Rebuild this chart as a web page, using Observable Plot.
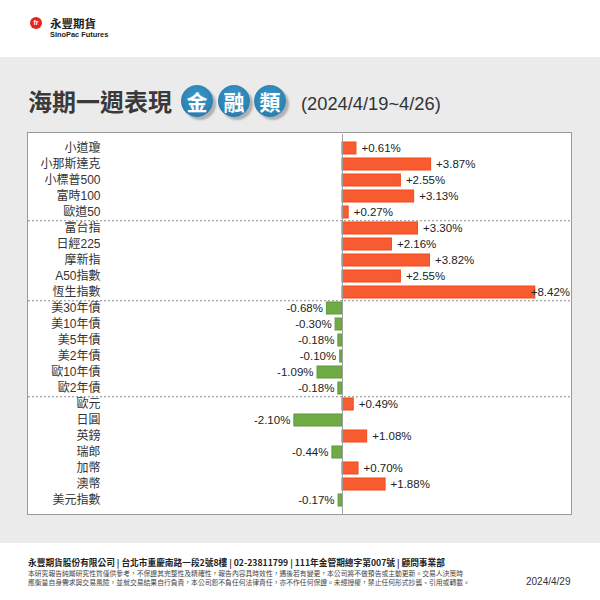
<!DOCTYPE html>
<html>
<head>
<meta charset="utf-8">
<script src="https://cdn.jsdelivr.net/npm/d3@7"></script>
<script src="https://cdn.jsdelivr.net/npm/@observablehq/plot@0.6"></script>
<style>
  html, body { margin: 0; padding: 0; width: 600px; height: 600px; overflow: hidden; background: #fff;
    font-family: "Liberation Sans", "Noto Sans CJK TC", sans-serif; color: #333; }
  .abs { position: absolute; }
  #band { left: 0; top: 57px; width: 600px; height: 486px; background: #ebebeb; }
  #logo-dot { left: 30px; top: 17px; width: 12px; height: 12px; border-radius: 50%; background: #e8231d;
    color: #fff; font: bold 7px "Liberation Sans", sans-serif; text-align: center; line-height: 12px; }
  #logo-cn { left: 50px; top: 15px; font: bold 11.5px "Noto Sans CJK TC", sans-serif; color: #222; line-height: 16px; }
  #logo-en { left: 50px; top: 30px; font: bold 7.4px "Liberation Sans", sans-serif; color: #222; line-height: 10px; }
  #title { left: 28px; top: 86px; font: bold 24px "Noto Sans CJK TC", sans-serif; color: #3a3a3a; line-height: 30px; white-space: nowrap; }
  .circ { top: 85px; width: 32px; height: 32px; border-radius: 50%;
    background: radial-gradient(circle at 50% 40%, #3b9acb 0%, #2a7fb0 70%, #1f6e9c 100%);
    box-shadow: 3px 3px 2px rgba(0,0,0,0.25);
    color: #fff; font: bold 21px "Noto Sans CJK TC", sans-serif; text-align: center; line-height: 32px; }
  #date { left: 301px; top: 94px; font: 18.3px "Liberation Sans", "Noto Sans CJK TC", sans-serif; color: #333; line-height: 20px; white-space: nowrap; }
  #panel { left: 27px; top: 132px; width: 543px; height: 381px; border: 1px solid #9a9a9a; background: #fff; }
  #panel svg { display: block; }
  #f1 { left: 28px; top: 558px; font: bold 8.7px "Noto Sans CJK TC", sans-serif; color: #222; white-space: nowrap; line-height: 10px; }
  #f2 { left: 28px; top: 569px; font: 6.8px "Noto Sans CJK TC", sans-serif; color: #444; white-space: nowrap; line-height: 9px; }
  #fdate { left: 526px; top: 576px; font: 10px "Liberation Sans", sans-serif; color: #333; line-height: 12px; }
</style>
</head>
<body>
<div id="band" class="abs"></div>
<div id="logo-dot" class="abs">fr</div>
<div id="logo-cn" class="abs">永豐期貨</div>
<div id="logo-en" class="abs">SinoPac Futures</div>
<div id="title" class="abs">海期一週表現</div>
<div class="abs circ" style="left:181px">金</div>
<div class="abs circ" style="left:218px">融</div>
<div class="abs circ" style="left:254px">類</div>
<div id="date" class="abs">(2024/4/19~4/26)</div>
<div id="panel" class="abs"></div>
<div id="f1" class="abs">永豐期貨股份有限公司 | 台北市重慶南路一段2號8樓 | 02-23811799 | 111年金管期總字第007號 | 顧問事業部</div>
<div id="f2" class="abs">本研究報告純屬研究性質僅供參考，不保證其完整性及精確性，報告內容具時效性，遇後若有變更，本公司將不做預告或主動更新。交易人決策時<br>應衡量自身需求與交易風險，並就交易結果自行負責，本公司恕不負任何法律責任，亦不作任何保證。未經授權，禁止任何形式抄襲、引用或轉載。</div>
<div id="fdate" class="abs">2024/4/29</div>
<script>
const categories = ["小道瓊","小那斯達克","小標普500","富時100","歐道50","富台指","日經225","摩新指","A50指數","恆生指數","美30年債","美10年債","美5年債","美2年債","歐10年債","歐2年債","歐元","日圓","英鎊","瑞郎","加幣","澳幣","美元指數"];
const values = [0.61,3.87,2.55,3.13,0.27,3.30,2.16,3.82,2.55,8.42,-0.68,-0.30,-0.18,-0.10,-1.09,-0.18,0.49,-2.10,1.08,-0.44,0.70,1.88,-0.17];
const groupEnds = ["歐道50","恆生指數","歐2年債"];

const data = categories.map((c, i) => ({cat: c, v: values[i]}));
const fmt = v => (v > 0 ? "+" : "") + v.toFixed(2) + "%";
const W = 543, H = 381, mt = 1.25, mb = 0.25;
const step = (H - mt - mb) / categories.length;

const chart = Plot.plot({
  width: W, height: H,
  marginLeft: 0, marginRight: 0, marginTop: mt, marginBottom: mb,
  style: {fontFamily: '"Liberation Sans", "Noto Sans CJK TC", sans-serif', background: "transparent"},
  x: {domain: [-13.71, 10.0], axis: null},
  y: {domain: categories, paddingInner: 0.22, paddingOuter: 0.11, axis: null},
  marks: [
    Plot.ruleY(groupEnds, {y: d => d, dy: step / 2, stroke: "#8a8a8a", strokeDasharray: "2,2", strokeWidth: 1}),
    Plot.barX(data, {y: "cat", x1: 0, x2: "v",
      fill: d => d.v >= 0 ? "#f95b30" : "#6fac46",
      stroke: d => d.v >= 0 ? "#f24a1c" : "#5e9a3a", strokeWidth: 1}),
    Plot.ruleX([0], {stroke: "#a0a0a0", strokeWidth: 1}),
    Plot.text(categories, {y: d => d, frameAnchor: "left", dx: 72, textAnchor: "end", fontSize: 12, fill: "#333"}),
    Plot.text(data.filter(d => d.v >= 0), {y: "cat", x: d => Math.min(d.v, 8.0), text: d => fmt(d.v), dx: 5, textAnchor: "start", fontSize: 11.5, fill: "#222"}),
    Plot.text(data.filter(d => d.v < 0), {y: "cat", x: "v", text: d => fmt(d.v), dx: -4, textAnchor: "end", fontSize: 11.5, fill: "#222"})
  ]
});
document.getElementById("panel").appendChild(chart);
</script>
</body>
</html>
